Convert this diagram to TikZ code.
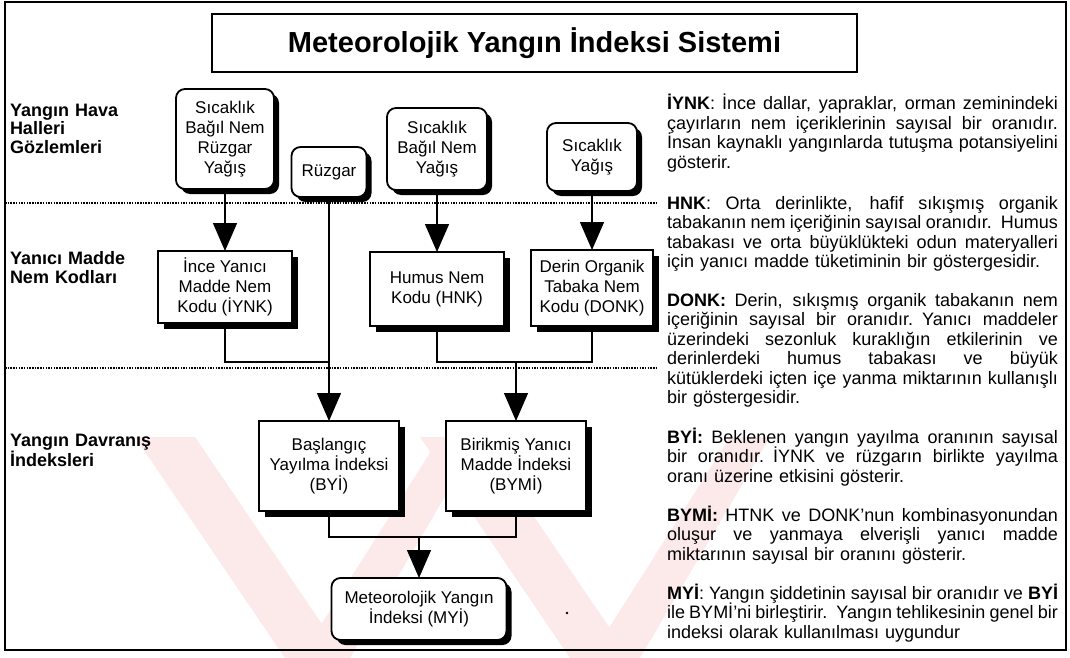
\documentclass[tikz,border=0pt]{standalone}
\usepackage{fontspec}
\setmainfont{Liberation Sans}
\usetikzlibrary{arrows.meta,shadows}
\newcommand\jl[1]{\leavevmode\hbox to 391pt{\spaceskip=0.2em plus 1fil\relax #1}}
\definecolor{wmpink}{RGB}{252,233,234}
\begin{document}
\begin{tikzpicture}[x=1pt,y=-1pt,
  every node/.style={inner sep=0pt,outer sep=0pt},
  boxfont/.style={font=\fontsize{17}{20}\selectfont},
  rbox/.style={boxfont,draw,line width=1.8pt,rounded corners=9pt,fill=white,align=center,
    drop shadow={shadow xshift=5pt,shadow yshift=-5pt,fill=black,opacity=1}},
  sbox/.style={boxfont,draw,line width=1.3pt,fill=white,align=center,
    drop shadow={shadow xshift=6pt,shadow yshift=-6pt,fill=black,opacity=1}},
  conn/.style={line width=1.4pt},
  arr/.style={conn,-{Triangle[width=24pt,length=28pt]}},
  dots/.style={line width=2.2pt,dash pattern=on 1.5pt off 1.2pt},
  lab/.style={anchor=base west,text width=170pt,align=left,font=\bfseries\fontsize{18}{18.5}\selectfont},
  para/.style={anchor=base west,text width=391pt,align=left,font=\fontsize{18}{19.5}\selectfont}
]
\useasboundingbox (0,0) rectangle (1070,658);
\fill[white] (0,0) rectangle (1070,658);
% watermark
\fill[wmpink] (135,437) -- (195,437) -- (345,658) -- (285,658) -- cycle;
\fill[wmpink] (300,658) -- (350,658) -- (480,437) -- (440,437) -- cycle;
\fill[wmpink] (420,437) -- (480,437) -- (630,658) -- (570,658) -- cycle;
\fill[wmpink] (590,658) -- (640,658) -- (770,437) -- (730,437) -- cycle;
% frame
\draw[line width=1.5pt] (5,2) rectangle (1066,650);
% title
\node[draw,line width=1.5pt,minimum width=645pt,minimum height=58pt,
  font=\bfseries\fontsize{29}{34}\selectfont] (title) at (534.5,43) {Meteorolojik Yangın İndeksi Sistemi};
% row labels
\node[lab] (l1) at (10,116.5) {Yangın Hava\\Halleri\\Gözlemleri};
\node[lab] (l2) at (10,264.5) {Yanıcı Madde\\Nem Kodları};
\node[lab] (l3) at (10,446.5) {Yangın Davranış\\İndeksleri};
% dotted separators
\coordinate (d1a) at (5,203); \coordinate (d1b) at (658,203);
\coordinate (d2a) at (5,368); \coordinate (d2b) at (658,368);
\draw[dots] (d1a) -- (d1b);
\draw[dots] (d2a) -- (d2b);
% observation boxes
\node[rbox,minimum width=98pt,minimum height=100pt] (A) at (225,139) {Sıcaklık\\Bağıl Nem\\Rüzgar\\Yağış};
\node[rbox,minimum width=75pt,minimum height=50pt] (ruz) at (329,172) {Rüzgar};
\node[rbox,minimum width=100pt,minimum height=82pt] (C) at (437,149) {Sıcaklık\\Bağıl Nem\\Yağış};
\node[rbox,minimum width=90pt,minimum height=68pt] (D) at (592,157) {Sıcaklık\\Yağış};
% moisture codes
\node[sbox,minimum width=134pt,minimum height=72pt] (iynk) at (225,287) {İnce Yanıcı\\Madde Nem\\Kodu (İYNK)};
\node[sbox,minimum width=134pt,minimum height=74pt] (hnk) at (437,289) {Humus Nem\\Kodu (HNK)};
\node[sbox,minimum width=122pt,minimum height=76pt] (donk) at (592,288) {Derin Organik\\Tabaka Nem\\Kodu (DONK)};
% behaviour indices
\node[sbox,minimum width=140pt,minimum height=90pt] (byi) at (329,466) {Başlangıç\\Yayılma İndeksi\\(BYİ)};
\node[sbox,minimum width=140pt,minimum height=90pt] (bymi) at (516,466) {Birikmiş Yanıcı\\Madde İndeksi\\(BYMİ)};
\node[rbox,minimum width=175pt,minimum height=62pt] (myi) at (419,609) {Meteorolojik Yangın\\İndeksi (MYİ)};
% junctions
\coordinate (j1) at (329,362);
\coordinate (j2) at (516,362);
\coordinate (j3) at (419,537);
% connectors
\draw[arr] (A.south) -- (iynk.north);
\draw[arr] (C.south) -- (hnk.north);
\draw[arr] (D.south) -- (donk.north);
\draw[arr] (ruz.south) -- (byi.north);
\draw[conn] (iynk.south) |- (j1);
\draw[conn] (hnk.south) |- (j2) -| (donk.south);
\draw[arr] (j2) -- (bymi.north);
\draw[conn] (byi.south) |- (j3) -| (bymi.south);
\draw[arr] (j3) -- (myi.north);
\fill (567,613) circle (1.3pt);
% explanations
\node[para] (p1) at (667,110) {\jl{\textbf{İYNK}: İnce dallar, yapraklar, orman zeminindeki}\\
\jl{çayırların nem içeriklerinin sayısal bir oranıdır.}\\
\jl{İnsan kaynaklı yangınlarda tutuşma potansiyelini}\\
gösterir.};
\node[para] (p2) at (667,209) {\jl{\textbf{HNK}: Orta derinlikte, hafif sıkışmış organik}\\
\jl{tabakanın nem içeriğinin sayısal oranıdır. Humus}\\
\jl{tabakası ve orta büyüklükteki odun materyalleri}\\
için yanıcı madde tüketiminin bir göstergesidir.};
\node[para] (p3) at (667,306) {\jl{\textbf{DONK:} Derin, sıkışmış organik tabakanın nem}\\
\jl{içeriğinin sayısal bir oranıdır. Yanıcı maddeler}\\
\jl{üzerindeki sezonluk kuraklığın etkilerinin ve}\\
\jl{derinlerdeki humus tabakası ve büyük}\\
\jl{kütüklerdeki içten içe yanma miktarının kullanışlı}\\
bir göstergesidir.};
\node[para] (p4) at (667,443) {\jl{\textbf{BYİ:} Beklenen yangın yayılma oranının sayısal}\\
\jl{bir oranıdır. İYNK ve rüzgarın birlikte yayılma}\\
oranı üzerine etkisini gösterir.};
\node[para] (p5) at (667,521) {\jl{\textbf{BYMİ:} HTNK ve DONK'nun kombinasyonundan}\\
\jl{oluşur ve yanmaya elverişli yanıcı madde}\\
miktarının sayısal bir oranını gösterir.};
\node[para] (p6) at (667,599) {\jl{\textbf{MYİ}: Yangın şiddetinin sayısal bir oranıdır ve \textbf{BYİ}}\\
\jl{ile BYMİ'ni birleştirir. Yangın tehlikesinin genel bir}\\
indeksi olarak kullanılması uygundur};
\end{tikzpicture}
\end{document}
